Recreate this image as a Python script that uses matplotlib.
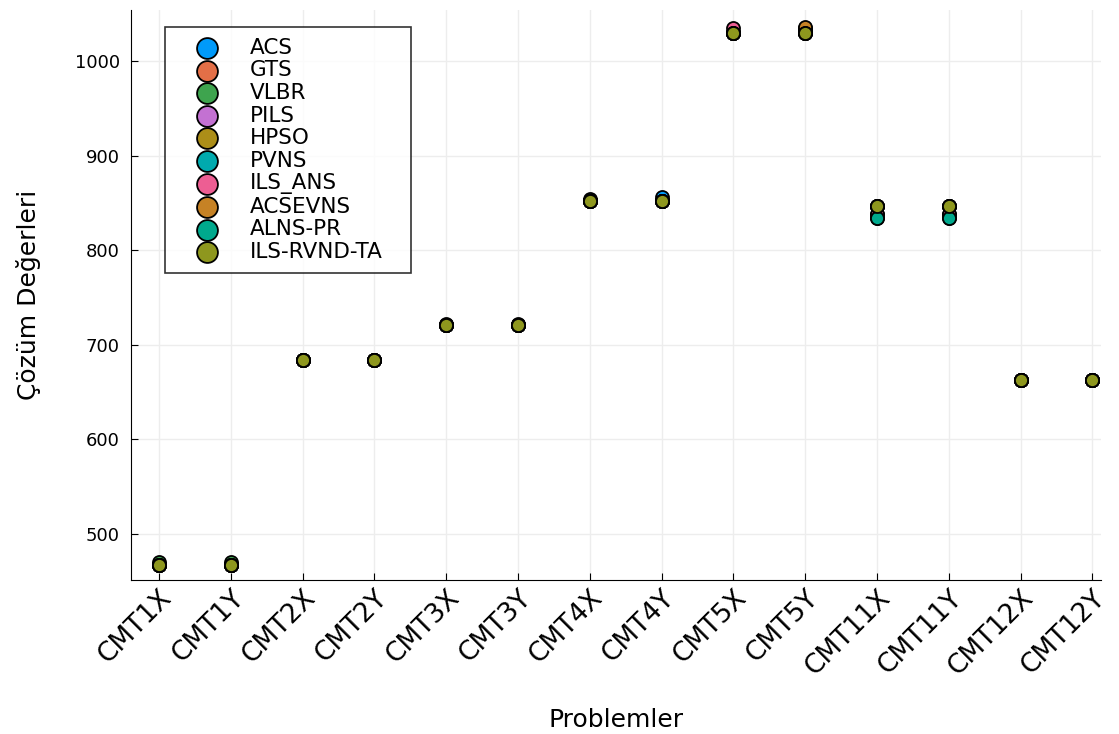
import matplotlib.pyplot as plt

problems = ["CMT1X", "CMT1Y", "CMT2X", "CMT2Y", "CMT3X", "CMT3Y", "CMT4X",
            "CMT4Y", "CMT5X", "CMT5Y", "CMT11X", "CMT11Y", "CMT12X", "CMT12Y"]

acs = [466.77, 466.77, 684.21, 684.21, 721.40, 721.40, 854.12, 855.76, 1030.0, 1031.0, 846.23, 846.23, 663.0, 663.0]
gts = [466.77, 466.77, 684.21, 684.21, 721.27, 721.27, 852.46, 852.46, 1029.25, 1029.25, 838.0, 838.0, 662.22, 662.22]
vlbr = [470.0, 470.0, 684.21, 684.21, 721.27, 721.27, 852.46, 852.46, 1030.0, 1030.0, 846.23, 846.23, 662.22, 662.22]
pils = [466.77, 466.77, 684.21, 684.21, 721.27, 721.27, 852.46, 852.46, 1029.25, 1033.0, 846.23, 846.23, 662.22, 662.22]
hpso = [466.77, 466.77, 684.21, 684.21, 721.27, 721.27, 852.46, 852.46, 1029.25, 1035.0, 846.23, 846.23, 662.22, 662.22]
pvns = [466.77, 466.77, 684.21, 684.21, 721.27, 721.27, 852.46, 852.46, 1029.25, 1029.25, 833.92, 833.92, 662.22, 662.22]
ils_ans = [466.77, 466.77, 684.21, 684.21, 721.27, 721.27, 852.46, 852.46, 1034.5, 1029.25, 838.0, 838.0, 662.22, 662.22]
acsevns = [466.77, 466.77, 684.21, 684.21, 721.27, 721.27, 852.46, 852.46, 1029.25, 1036.5, 846.23, 846.23, 662.22, 662.22]
alns_pr = [466.77, 466.77, 684.21, 684.21, 721.27, 721.27, 852.46, 852.46, 1029.25, 1029.25, 833.92, 833.92, 662.22, 662.22]
ils_rvnd_ta = [466.77, 466.77, 684.21, 684.21, 721.27, 721.27, 852.46, 852.46, 1029.25, 1029.25, 846.23, 846.23, 662.22, 662.22]

series = [("ACS", acs), ("GTS", gts), ("VLBR", vlbr), ("PILS", pils), ("HPSO", hpso),
          ("PVNS", pvns), ("ILS_ANS", ils_ans), ("ACSEVNS", acsevns),
          ("ALNS-PR", alns_pr), ("ILS-RVND-TA", ils_rvnd_ta)]
colors = ["#009AFA", "#E36F47", "#3EA44E", "#C371D2", "#AC8E18",
          "#00AAAE", "#ED5E93", "#C68225", "#00A98D", "#8E971E"]

fig = plt.figure(figsize=(11.19, 7.34), dpi=100)
ax = fig.add_axes([131 / 1119, 1 - 580 / 734, 970 / 1119, 570 / 734])

x = list(range(len(problems)))
for (name, vals), c in zip(series, colors):
    ax.scatter(x, vals, s=88, color=c, edgecolors="black", linewidths=1.3,
               label=name, zorder=3)

ax.set_xlim(-0.39, 13.12)
ax.set_ylim(451, 1054)
ax.set_xticks(x)
ax.set_xticklabels(problems, rotation=45, ha="right", rotation_mode="anchor", fontsize=19)
ax.set_yticks([500, 600, 700, 800, 900, 1000])
ax.tick_params(axis="y", labelsize=13, pad=8)
ax.tick_params(direction="in", length=5)
ax.grid(True, color="#ededed", linewidth=1)
ax.set_axisbelow(True)
for s in ["top", "right"]:
    ax.spines[s].set_visible(False)
ax.set_xlabel("Problemler", fontsize=18, labelpad=20)
ax.set_ylabel("Çözüm Değerleri", fontsize=18, labelpad=24)

leg = ax.legend(loc="upper left", bbox_to_anchor=(34 / 970, 1 - 17 / 570, 246 / 970, 0),
                mode="expand", fontsize=15.5, markerscale=1.6, frameon=True, fancybox=False,
                edgecolor="black", handletextpad=0.55, labelspacing=0.12, borderpad=0.5,
                borderaxespad=0, handlelength=2.9)
leg.get_frame().set_linewidth(1.2)

plt.savefig("out.png", dpi=100)
